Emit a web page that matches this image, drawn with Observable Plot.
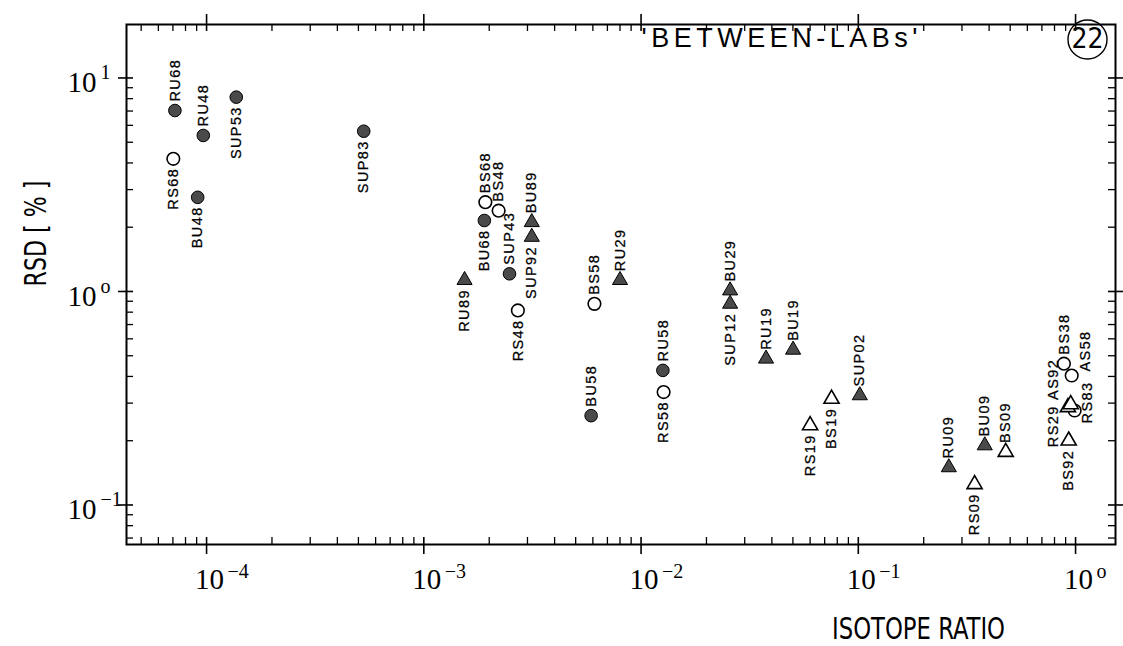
<!DOCTYPE html>
<html>
<head>
<meta charset="utf-8">
<script src="https://cdn.jsdelivr.net/npm/d3@7"></script>
<script src="https://cdn.jsdelivr.net/npm/@observablehq/plot@0.6"></script>
<style>
  html, body { margin: 0; padding: 0; background: #fff; }
  text[aria-label="pt"] { letter-spacing: 1.4px; }
</style>
</head>
<body>
<div id="chart"></div>
<script>
// ---- data ----
const names = ["RU68","RU48","SUP53","RS68","BU48","SUP83","BU68","BS68","BS48","SUP43","RS48","RU89","BU89","SUP92","BS58","RU29","BU58","RU58","RS58","BU29","SUP12","RU19","BU19","SUP02","BS19","RS19","RU09","BU09","BS09","RS09","BS92","RS29","AS92","BS38","AS58","RS83"];
const ratio = [7.15e-5,9.66e-5,1.37e-4,7.03e-5,9.1e-5,5.29e-4,1.90e-3,1.92e-3,2.21e-3,2.48e-3,2.71e-3,1.54e-3,3.14e-3,3.14e-3,6.1e-3,8.0e-3,5.89e-3,1.26e-2,1.27e-2,2.57e-2,2.57e-2,3.76e-2,5.01e-2,0.1016,0.0753,0.060,0.261,0.382,0.477,0.343,0.93,0.922,0.95,0.884,0.96,0.99];
const rsd = [7.04,5.38,8.13,4.18,2.76,5.63,2.15,2.62,2.39,1.21,0.815,1.13,2.11,1.80,0.875,1.13,0.262,0.427,0.338,1.01,0.875,0.484,0.533,0.326,0.314,0.236,0.150,0.190,0.177,0.125,0.200,0.287,0.296,0.459,0.404,0.277];
const shape = ["circle","circle","circle","circle","circle","circle","circle","circle","circle","circle","circle","triangle","triangle","triangle","circle","triangle","circle","circle","circle","triangle","triangle","triangle","triangle","triangle","triangle","triangle","triangle","triangle","triangle","triangle","triangle","triangle","triangle","circle","circle","circle"];
const filled = [true,true,true,false,true,true,true,false,false,true,false,true,true,true,false,true,true,true,false,true,true,true,true,true,false,false,true,true,false,false,false,false,false,false,false,false];

// axis ticks
const xMajor = [1e-4, 1e-3, 1e-2, 1e-1, 1];
const xExp = ["\u22124", "\u22123", "\u22122", "\u22121", "o"];
const yMajor = [10, 1, 0.1];
const yExp = ["1", "o", "\u22121"];
const minorMult = [2, 3, 4, 5, 6, 7, 8, 9];

// label placement (layout, kept apart from data)
const labelSide = {
  RU68:"up", RU48:"up", SUP53:"down", RS68:"down", BU48:"down", SUP83:"down",
  BU68:"down", BS68:"up", BS48:"up", SUP43:"up", RS48:"down", RU89:"down",
  BU89:"up", SUP92:"down", BS58:"up", RU29:"up", BU58:"up", RU58:"up", RS58:"down",
  BU29:"up", SUP12:"down", RU19:"up", BU19:"up", SUP02:"up", BS19:"down", RS19:"down",
  RU09:"up", BU09:"up", BS09:"up", RS09:"down", BS92:"down",
  RS29:"RS29", AS92:"AS92", BS38:"up", AS58:"AS58", RS83:"RS83"
};

// ---- build ----
const data = names.map((name, i) => ({name, ratio: ratio[i], rsd: rsd[i], shape: shape[i], filled: filled[i], side: labelSide[name]}));

const W = 1123, H = 646;
const mL = 126, mR = 8, mT = 24, mB = 102;
const FW = W - mL - mR, FH = H - mT - mB;
const xDomain = [4.28e-5, 1.527];
const yDomain = [0.0653, 17.8];

const xMinor = [];
[1e-5, 1e-4, 1e-3, 1e-2, 1e-1, 1].forEach(dec => minorMult.forEach(m => { const v = dec * m; if (v > xDomain[0] && v < xDomain[1]) xMinor.push(v); }));
const yMinor = [];
[0.01, 0.1, 1, 10].forEach(dec => minorMult.forEach(m => { const v = dec * m; if (v > yDomain[0] && v < yDomain[1]) yMinor.push(v); }));

const labelFont = "Liberation Sans, Arial, sans-serif";
const numFont = "Liberation Serif, Times New Roman, serif";
const titleFont = "Liberation Sans Narrow, DejaVu Sans Condensed, Liberation Sans, sans-serif";
const T = 7; // inner tick length

const pointLabel = (filterFn, opts) => Plot.text(data.filter(filterFn), {
  x: "ratio", y: "rsd", text: "name", rotate: -90, lineAnchor: "middle",
  fontFamily: labelFont, fontSize: 14.5, fill: "black", stroke: "black", strokeWidth: 0.25,
  ariaLabel: () => "pt", ...opts
});

const chart = Plot.plot({
  width: W, height: H,
  marginLeft: mL, marginRight: mR, marginTop: mT, marginBottom: mB,
  x: {type: "log", domain: xDomain, axis: null},
  y: {type: "log", domain: yDomain, axis: null},
  style: {background: "white", overflow: "visible"},
  marks: [
    // ticks bottom
    Plot.ruleX(xMinor, {x: d => d, insetTop: FH - T, stroke: "black", strokeWidth: 1.3}),
    Plot.ruleX(xMajor, {x: d => d, insetTop: FH - T, insetBottom: -10, stroke: "black", strokeWidth: 1.6}),
    // ticks top
    Plot.ruleX(xMinor, {x: d => d, insetBottom: FH - T, stroke: "black", strokeWidth: 1.3}),
    Plot.ruleX(xMajor, {x: d => d, insetBottom: FH - T, insetTop: -10, stroke: "black", strokeWidth: 1.6}),
    // ticks left
    Plot.ruleY(yMinor, {y: d => d, insetRight: FW - T, stroke: "black", strokeWidth: 1.3}),
    Plot.ruleY(yMajor, {y: d => d, insetRight: FW - T, insetLeft: -8, stroke: "black", strokeWidth: 1.6}),
    // ticks right
    Plot.ruleY(yMinor, {y: d => d, insetLeft: FW - T, stroke: "black", strokeWidth: 1.3}),
    Plot.ruleY(yMajor, {y: d => d, insetLeft: FW - T, insetRight: -8, stroke: "black", strokeWidth: 1.6}),
    Plot.frame({stroke: "black", strokeWidth: 2}),

    // x tick labels
    Plot.text(xMajor, {x: d => d, text: () => "10", frameAnchor: "bottom", lineAnchor: "middle", dx: 3, dy: 35, fontFamily: numFont, fontSize: 29, fill: "black"}),
    Plot.text(xMajor, {x: d => d, text: (d, i) => xExp[i], frameAnchor: "bottom", lineAnchor: "middle", dx: 21, dy: 27, textAnchor: "start", fontFamily: numFont, fontSize: 20, fill: "black"}),
    // y tick labels
    Plot.text(yMajor, {y: d => d, text: () => "10", frameAnchor: "left", lineAnchor: "middle", dx: -30, dy: 5, textAnchor: "end", fontFamily: numFont, fontSize: 29, fill: "black"}),
    Plot.text(yMajor, {y: d => d, text: (d, i) => yExp[i], frameAnchor: "left", lineAnchor: "middle", dx: -26, dy: -5, textAnchor: "start", fontFamily: numFont, fontSize: 20, fill: "black"}),

    // axis titles
    Plot.text(["RSD [ % ]"], {text: d => d, frameAnchor: "left", lineAnchor: "middle", dx: -90, dy: 2, rotate: -90, fontFamily: titleFont, fontSize: 30, fill: "black", ariaLabel: () => "n106"}),
    Plot.text(["ISOTOPE RATIO"], {text: d => d, frameAnchor: "bottom-right", lineAnchor: "middle", dx: -197, dy: 85, textAnchor: "middle", fontFamily: titleFont, fontSize: 30, fill: "black", ariaLabel: () => "n173"}),
    Plot.text(["'BETWEEN-LABs'"], {text: d => d, frameAnchor: "top-right", lineAnchor: "middle", dx: -198, dy: 14, textAnchor: "end", fontFamily: labelFont, fontSize: 27, fill: "black", ariaLabel: () => "s276"}),
    Plot.dot([0], {frameAnchor: "top-right", dx: -28, dy: 15, r: 19.5, stroke: "black", strokeWidth: 1.4, fill: "none"}),
    Plot.text(["22"], {text: d => d, frameAnchor: "top-right", textAnchor: "middle", lineAnchor: "middle", dx: -28, dy: 15, fontFamily: titleFont, fontSize: 28, fill: "black"}),

    // markers
    Plot.dot(data.filter(d => d.shape === "circle" && d.filled), {x: "ratio", y: "rsd", symbol: "circle", r: 6.3, fill: "#4a4a4a", stroke: "black", strokeWidth: 1}),
    Plot.dot(data.filter(d => d.shape === "circle" && !d.filled), {x: "ratio", y: "rsd", symbol: "circle", r: 6.3, fill: "white", stroke: "black", strokeWidth: 1.6}),
    Plot.dot(data.filter(d => d.shape === "triangle" && d.filled), {x: "ratio", y: "rsd", symbol: "triangle", r: 5.6, fill: "#4a4a4a", stroke: "black", strokeWidth: 1}),
    Plot.dot(data.filter(d => d.shape === "triangle" && !d.filled), {x: "ratio", y: "rsd", symbol: "triangle", r: 5.6, fill: "white", stroke: "black", strokeWidth: 1.6}),

    // point labels
    pointLabel(d => d.side === "up", {textAnchor: "start", dy: -9}),
    pointLabel(d => d.side === "down", {textAnchor: "end", dy: 9}),
    pointLabel(d => d.side === "RS29", {textAnchor: "middle", dx: -15, dy: 19}),
    pointLabel(d => d.side === "AS92", {textAnchor: "middle", dx: -17, dy: -25}),
    pointLabel(d => d.side === "AS58", {textAnchor: "start", dx: 14, dy: -4}),
    pointLabel(d => d.side === "RS83", {textAnchor: "middle", dx: 13, dy: -8})
  ]
});

// drafting-style lettering: fit text to the widths seen in the original
chart.querySelectorAll("text[aria-label]").forEach(t => {
  const m = /^([ns])(\d+)$/.exec(t.getAttribute("aria-label"));
  if (!m) return;
  t.setAttribute("textLength", m[2]);
  t.setAttribute("lengthAdjust", m[1] === "n" ? "spacingAndGlyphs" : "spacing");
});
document.getElementById("chart").appendChild(chart);
</script>
</body>
</html>
